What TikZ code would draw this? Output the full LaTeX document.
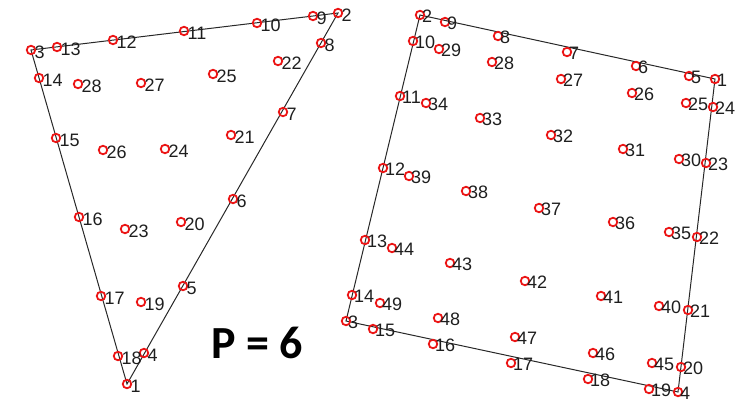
\documentclass[tikz,border=0pt]{standalone}
\usepackage{fontspec}
\setmainfont{Liberation Sans}
\newfontfamily\calfont{Carlito}
\usepackage{xcolor}
\usepackage{tikz}
\usetikzlibrary{positioning, backgrounds}
\definecolor{markred}{RGB}{235, 20, 20}
\definecolor{edgegray}{RGB}{40, 40, 40}
\definecolor{numblack}{RGB}{30, 30, 30}

\begin{document}
\begin{tikzpicture}[
    x=1pt, y=-1pt,
    pt/.style={circle, draw=markred, line width=1.8pt, minimum size=8.5pt, inner sep=0pt},
    num/.style={anchor=west, inner sep=0pt, text=numblack,
                font=\fontsize{18}{18}\selectfont},
    edge/.style={draw=edgegray, line width=1pt}
]
    \useasboundingbox (0,0) rectangle (740,404);

    % Left mesh - triangle
    \foreach \n/\x/\y in {1/127/384, 2/338/13, 3/31/50, 4/144/353, 5/183/286,
        6/233/199, 7/283/112, 8/321/43, 9/313/16, 10/257/23, 11/184/31,
        12/113/40, 13/57/47, 14/39/78, 15/56/138, 16/79/217, 17/101/296,
        18/118/356, 19/141/302, 20/181/222, 21/231/135, 22/278/61,
        23/125/229, 24/165/149, 25/213/74, 26/103/150, 27/141/83, 28/78/84} {
        \node[pt] (tri\n) at (\x,\y) {};
        \node[num] (tril\n) at ([xshift=3.5pt, yshift=-2pt]tri\n.center) {\n};
    }

    % Right mesh - quadrilateral
    \foreach \n/\x/\y in {1/715/79, 2/420/15, 3/346/321, 4/678/392, 5/689/76,
        6/636/66, 7/567/52, 8/498/36, 9/445/22, 10/413/41, 11/400/96,
        12/383/168, 13/365/240, 14/352/295, 15/373/329, 16/433/344,
        17/511/363, 18/588/379, 19/649/389, 20/681/367, 21/688/310,
        22/697/237, 23/706/163, 24/713/107, 25/686/103, 26/632/93,
        27/561/79, 28/492/62, 29/439/49, 30/679/159, 31/623/149, 32/551/135,
        33/480/118, 34/426/103, 35/669/232, 36/613/222, 37/539/208,
        38/466/191, 39/409/176, 40/659/306, 41/601/296, 42/525/281,
        43/450/263, 44/392/248, 45/652/363, 46/593/353, 47/515/337,
        48/438/318, 49/380/303} {
        \node[pt] (quad\n) at (\x,\y) {};
        \node[num] (quadl\n) at ([xshift=2pt, yshift=-1.5pt]quad\n.center) {\n};
    }

    % Boundaries
    \begin{scope}[on background layer]
        \draw[edge] (tri1.center) -- (tri2.center) -- (tri3.center) -- cycle;
        \draw[edge] (quad1.center) -- (quad2.center) -- (quad3.center)
            -- (quad4.center) -- cycle;
    \end{scope}

    % Order
    \node[font=\calfont\bfseries\fontsize{46}{46}\selectfont] (order) at (257,343) {P = 6};
\end{tikzpicture}
\end{document}
